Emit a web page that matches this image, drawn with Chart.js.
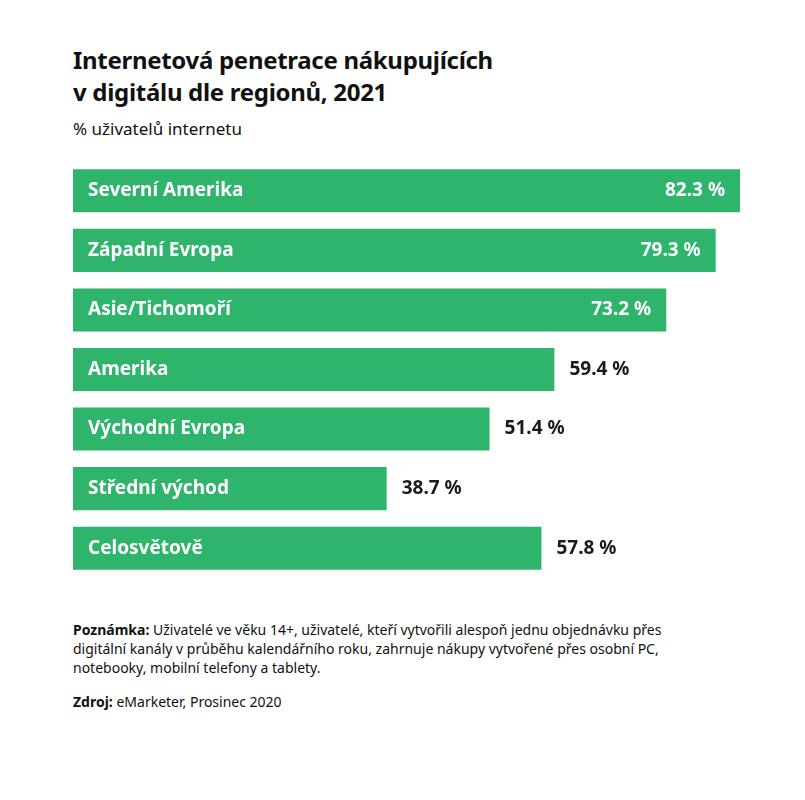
<!DOCTYPE html>
<html><head><meta charset="utf-8">
<script src="https://cdn.jsdelivr.net/npm/chart.js@4"></script>
<style>
body{margin:0;background:#fff;font-family:"Noto Sans",sans-serif;color:#111;width:805px;height:800px;position:relative}
h1{position:absolute;left:73px;top:44px;margin:0;font-size:24px;line-height:32px;font-weight:700;letter-spacing:-0.3px}
.sub{position:absolute;left:73px;top:117px;font-size:17px}
#wrap{position:absolute;left:73px;top:161px;width:700px;height:417px}
.note{position:absolute;left:73px;top:620px;font-size:14px;line-height:19px;width:640px}
.src{position:absolute;left:73px;top:692px;font-size:14px}
</style></head><body>
<h1>Internetová penetrace nákupujících<br>v digitálu dle regionů, 2021</h1>
<div class="sub">% uživatelů internetu</div>
<div id="wrap"><canvas id="c"></canvas></div>
<div class="note"><b>Poznámka:</b> Uživatelé ve věku 14+, uživatelé, kteří vytvořili alespoň jednu objednávku přes digitální kanály v průběhu kalendářního roku, zahrnuje nákupy vytvořené přes osobní PC, notebooky, mobilní telefony a tablety.</div>
<div class="src"><b>Zdroj:</b> eMarketer, Prosinec 2020</div>
<script>
const regions = ['Severní Amerika','Západní Evropa','Asie/Tichomoří','Amerika','Východní Evropa','Střední východ','Celosvětově']
const values = [82.3, 79.3, 73.2, 59.4, 51.4, 38.7, 57.8]

const labelPlugin = {
    id: 'labels',
    afterDatasetsDraw(chart) {
        const c = chart.ctx
        const meta = chart.getDatasetMeta(0)
        c.save()
        c.font = 'bold 19px "Noto Sans"'
        c.textBaseline = 'middle'
        meta.data.forEach((bar, i) => {
            const left = chart.scales.x.getPixelForValue(0)
            c.fillStyle = '#fff'
            c.textAlign = 'left'
            c.fillText(regions[i], left + 15, bar.y)
            const txt = values[i].toFixed(1) + ' %'
            if (values[i] > 70) {
                c.textAlign = 'right'
                c.fillText(txt, bar.x - 15, bar.y)
            } else {
                c.fillStyle = '#1a1a1a'
                c.textAlign = 'left'
                c.fillText(txt, bar.x + 15, bar.y)
            }
        })
        c.restore()
    }
}

new Chart(document.getElementById('c'), {
    type: 'bar',
    data: {
        labels: regions,
        datasets: [{data: values, backgroundColor: '#2fb56b', barPercentage: 0.723, categoryPercentage: 1}]
    },
    options: {
        indexAxis: 'y',
        responsive: true,
        maintainAspectRatio: false,
        animation: false,
        layout: {padding: 0},
        plugins: {legend: {display: false}, tooltip: {enabled: false}},
        scales: {
            x: {display: false, min: 0, max: 86.37},
            y: {display: false}
        }
    },
    plugins: [labelPlugin]
})
</script>
</body></html>
